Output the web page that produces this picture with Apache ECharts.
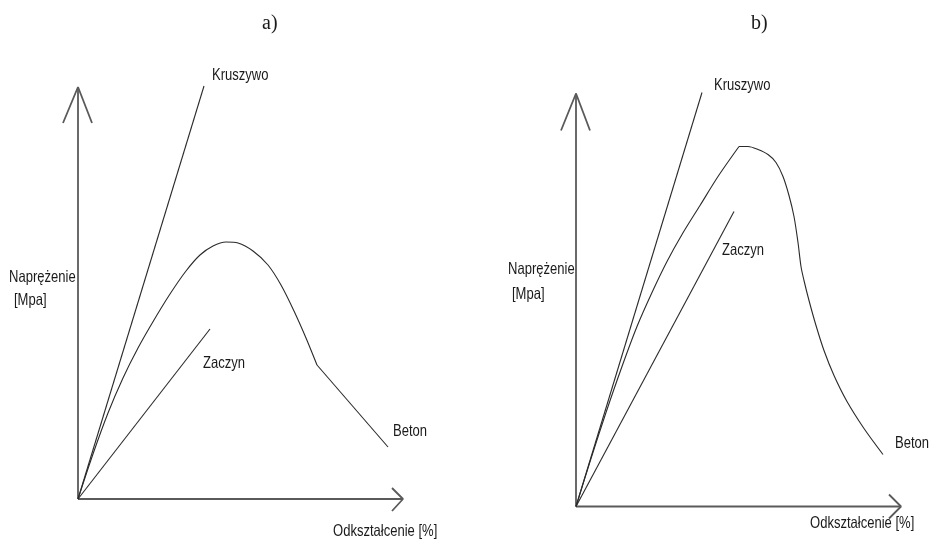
<!DOCTYPE html>
<html>
<head>
<meta charset="utf-8">
<script src="https://cdn.jsdelivr.net/npm/echarts@6/dist/echarts.min.js"></script>
<style>
html,body{margin:0;padding:0;background:#fff;}
#c{width:930px;height:543px;}
</style>
</head>
<body>
<div id="c"></div>
<script>
// ---- Data (strain, stress) in arbitrary units ----
// Panel a)
const kruszywoA = [[0, 0], [126, 413]];
const zaczynA = [[0, 0], [132, 170]];
const betonACurve = [[0, 0], [15, 45], [30, 86], [45, 121], [60, 151], [76, 179], [92, 205], [108, 228], [122, 244], [135, 253], [148, 257], [160, 256], [175, 248], [190, 234], [203, 214], [216, 188], [228, 161], [239, 134]];
const betonATail = [[239, 134], [310, 52]];
const yAxisA = [[0, 0], [0, 412]];
const yArrowA = [[-15, 376], [0, 412], [14, 376]];
const xAxisA = [[0, 0], [325, 0]];
const xArrowA = [[314, 11], [325, 0], [314, -12]];

// Panel b)
const kruszywoB = [[0, 0], [126, 414]];
const zaczynB = [[0, 0], [158, 295]];
const betonBRise = [[0, 0], [15, 48], [30, 94], [46, 140], [61, 180], [76, 214], [91, 245], [106, 272], [124, 301], [142, 330], [163, 360]];
const betonBFall = [[163, 360], [172, 360], [182, 357], [192, 352], [200, 344], [207, 330], [213, 311], [218, 290], [222, 264], [225, 240], [228, 226], [233, 206], [240, 181], [248, 156], [258, 131], [271, 105], [288, 78], [307, 52]];
const yAxisB = [[0, 0], [0, 413]];
const yArrowB = [[-15, 376], [0, 413], [14, 376]];
const xAxisB = [[0, 0], [325, 0]];
const xArrowB = [[313, 12], [325, 0], [313, -12]];

// Texts
const panelTitles = ['a)', 'b)'];
const seriesNames = ['Kruszywo', 'Zaczyn', 'Beton'];
const yTitle = ['Naprężenie', '[Mpa]'];
const xTitle = 'Odkształcenie [%]';

const chart = echarts.init(document.getElementById('c'), null, {renderer: 'canvas'});
const FONT = '"Liberation Sans Narrow", "Arial Narrow", "Liberation Sans", Arial, sans-serif';
const curveStyle = {color: '#2a2a2a', width: 1.1};
const axisStyle = {color: '#5a5a5a', width: 1.8};

function ln(name, data, gi, style, smooth) {
  return {
    type: 'line', name: name, data: data, xAxisIndex: gi, yAxisIndex: gi,
    showSymbol: false, symbol: 'none', smooth: smooth || false, silent: true,
    lineStyle: style, animation: false
  };
}
function hiddenAxis(gi, min, max) {
  return {type: 'value', gridIndex: gi, min: min, max: max, show: false};
}

function txt(x, y, s, size, family, sx) {
  return {
    type: 'text', x: x, y: y, scaleX: sx === undefined ? 0.79 : sx,
    style: {text: s, fontSize: size, fontFamily: family || FONT, fill: '#1a1a1a', textAlign: 'left', textVerticalAlign: 'middle'}
  };
}

chart.setOption({
  animation: false,
  grid: [
    {left: 58, width: 360, bottom: 24, height: 450},
    {left: 556, width: 360, bottom: 16.5, height: 450}
  ],
  xAxis: [hiddenAxis(0, -20, 340), hiddenAxis(1, -20, 340)],
  yAxis: [hiddenAxis(0, -20, 430), hiddenAxis(1, -20, 430)],
  series: [
    ln('axisYA', yAxisA, 0, axisStyle), ln('arrowYA', yArrowA, 0, axisStyle),
    ln('axisXA', xAxisA, 0, axisStyle), ln('arrowXA', xArrowA, 0, axisStyle),
    ln('Kruszywo a', kruszywoA, 0, curveStyle),
    ln('Zaczyn a', zaczynA, 0, curveStyle),
    ln('Beton a', betonACurve, 0, curveStyle, 0.3),
    ln('Beton a tail', betonATail, 0, curveStyle),
    ln('axisYB', yAxisB, 1, axisStyle), ln('arrowYB', yArrowB, 1, axisStyle),
    ln('axisXB', xAxisB, 1, axisStyle), ln('arrowXB', xArrowB, 1, axisStyle),
    ln('Kruszywo b', kruszywoB, 1, curveStyle),
    ln('Zaczyn b', zaczynB, 1, curveStyle),
    ln('Beton b rise', betonBRise, 1, curveStyle, 0.3),
    ln('Beton b fall', betonBFall, 1, curveStyle, 0.3)
  ],
  graphic: [
    txt(262, 24, panelTitles[0], 20, '"Liberation Serif", "Times New Roman", serif', 1),
    txt(751, 24, panelTitles[1], 20, '"Liberation Serif", "Times New Roman", serif', 1),
    txt(212, 75, seriesNames[0], 16.5),
    txt(203, 363, seriesNames[1], 16.5),
    txt(393, 431, seriesNames[2], 16.5),
    txt(9, 277, yTitle[0], 16.5),
    txt(14, 300, yTitle[1], 16.5),
    txt(333, 531, xTitle, 16.5),
    txt(714, 85, seriesNames[0], 16.5),
    txt(722, 250, seriesNames[1], 16.5),
    txt(895, 443, seriesNames[2], 16.5),
    txt(508, 269, yTitle[0], 16.5),
    txt(512, 294, yTitle[1], 16.5),
    txt(810, 523, xTitle, 16.5)
  ]
});
</script>
</body>
</html>
